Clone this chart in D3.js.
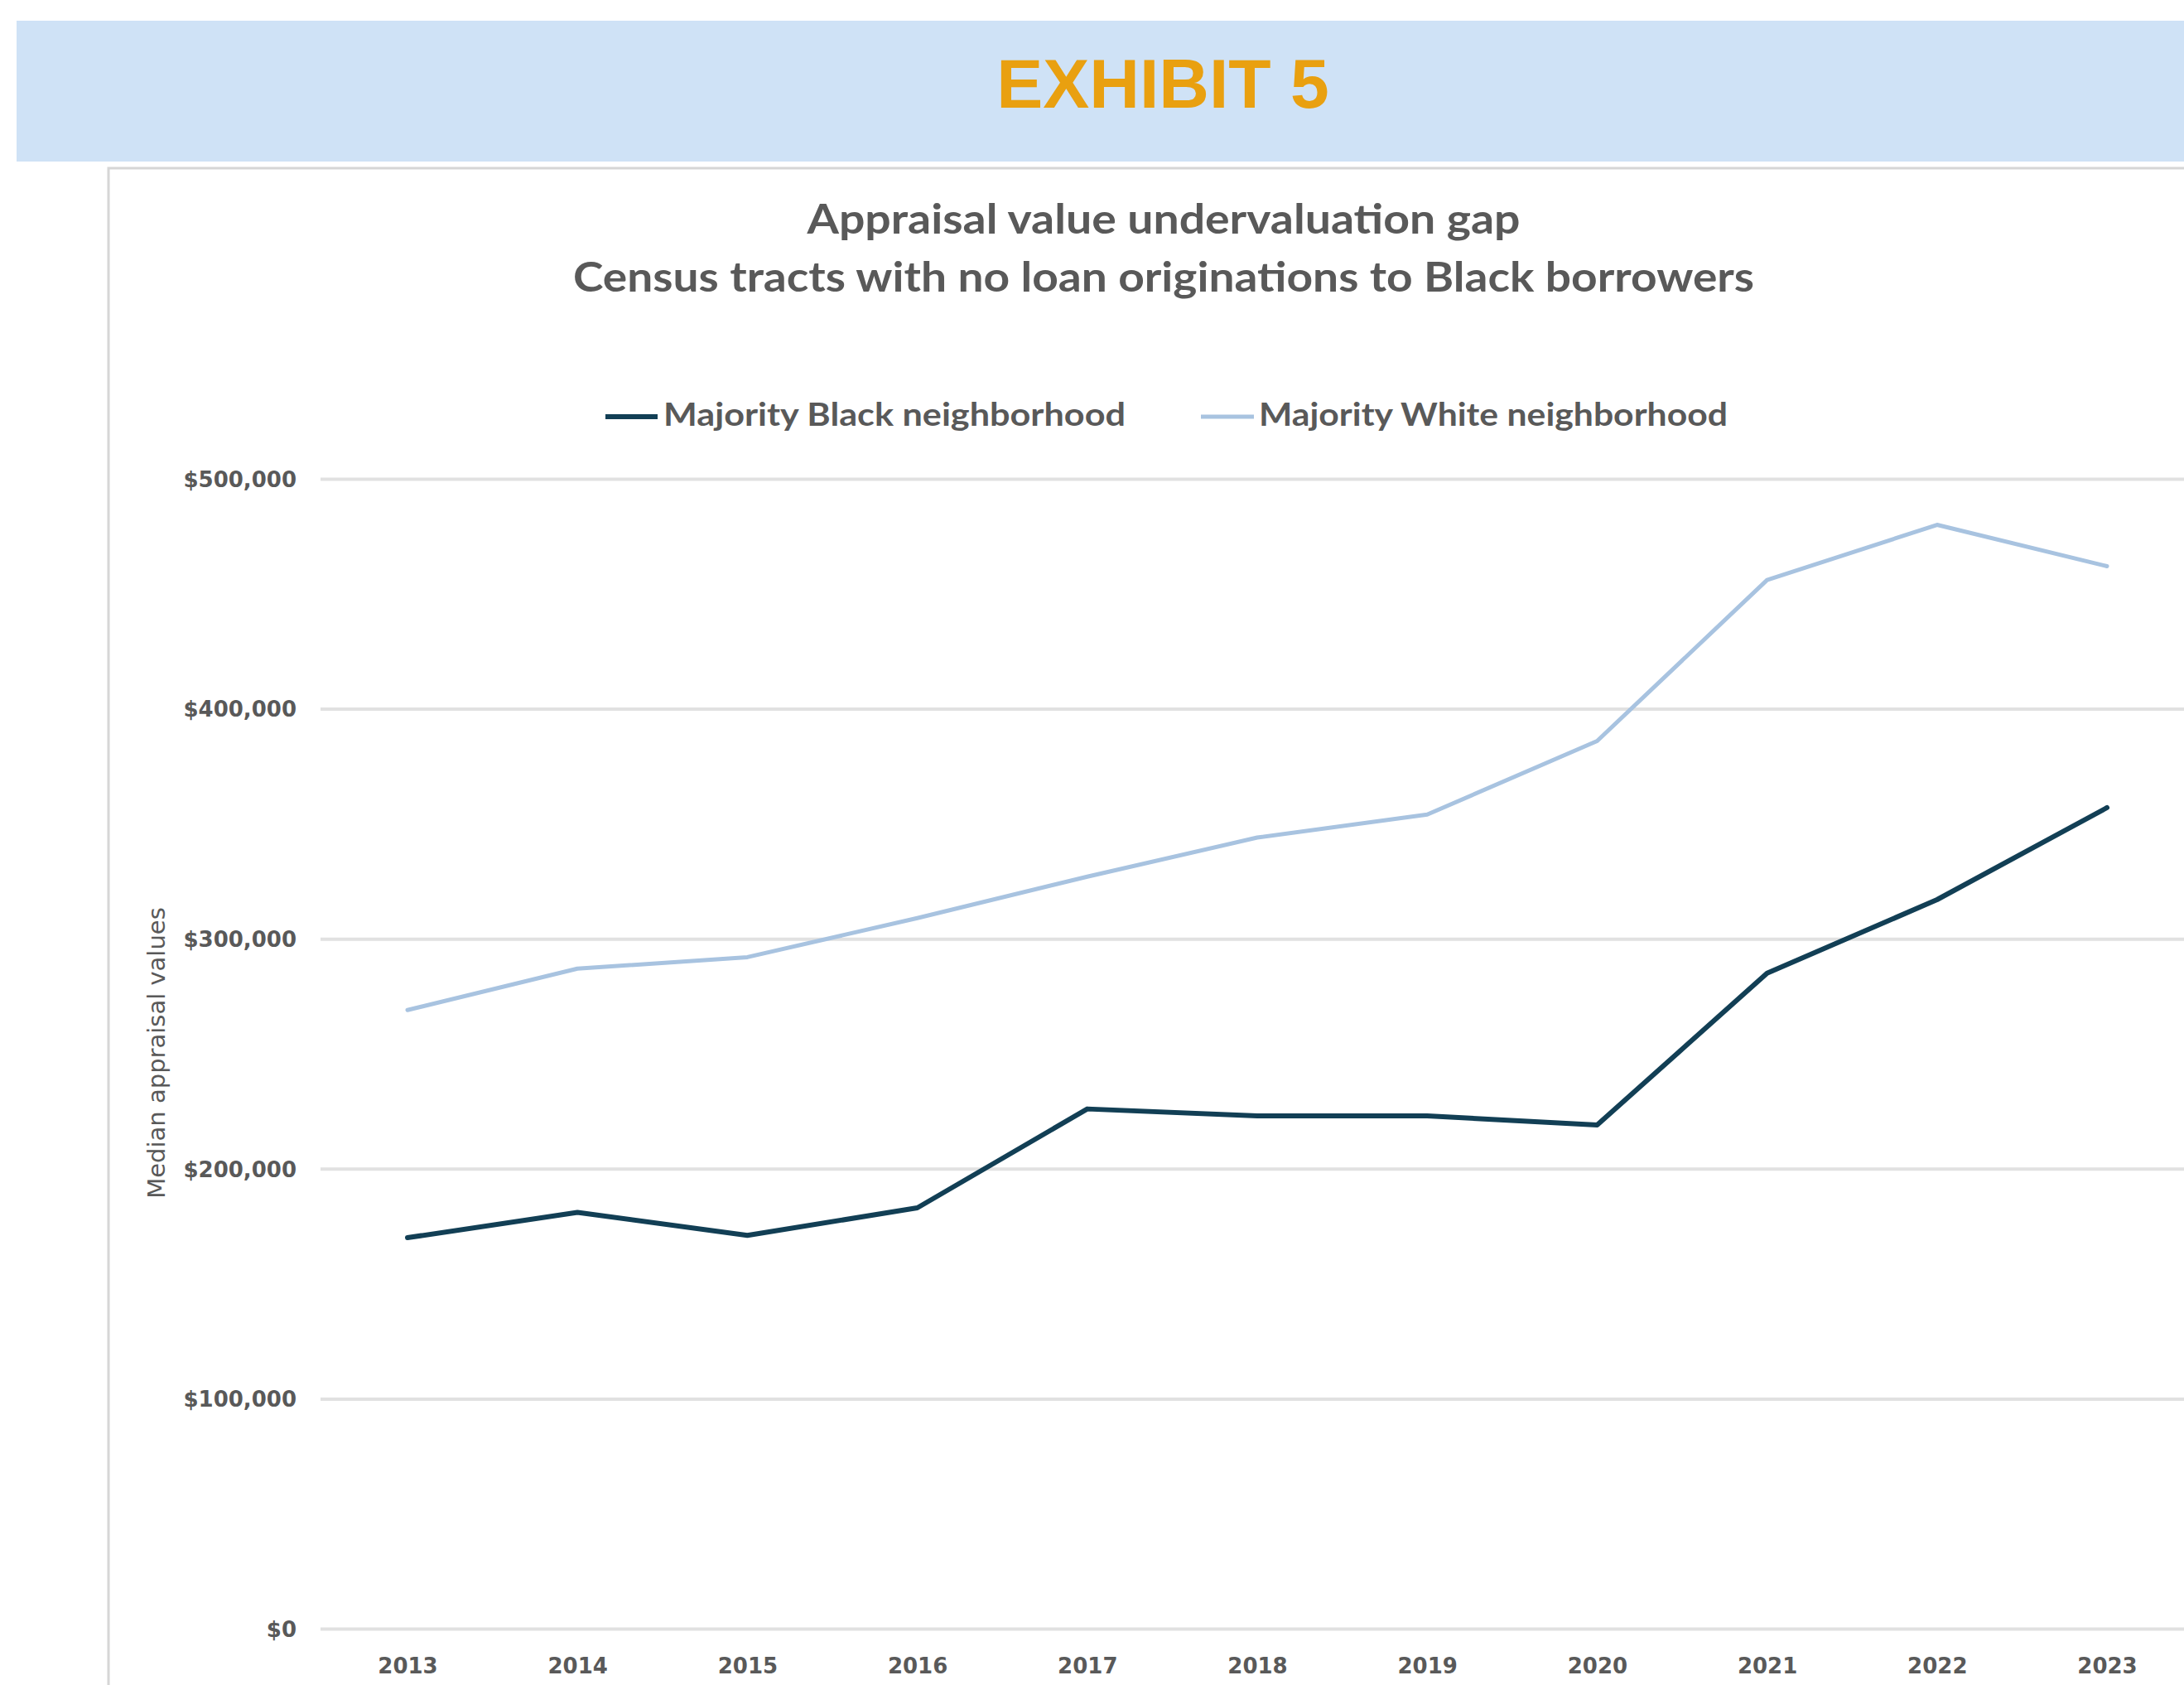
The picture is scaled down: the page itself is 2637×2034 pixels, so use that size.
<!DOCTYPE html>
<html>
<head>
<meta charset="utf-8">
<script src="https://cdn.jsdelivr.net/npm/d3@7"></script>
<style>
  html, body { margin: 0; padding: 0; background: #ffffff; }
  svg { display: block; }
</style>
</head>
<body>
<script>
// Median appraisal values by year, census tracts with no loan originations to Black borrowers
const years = ["2013","2014","2015","2016","2017","2018","2019","2020","2021","2022","2023"];
const blackValues = [170000, 181000, 171000, 183000, 226000, 223000, 223000, 219000, 285000, 317000, 357000];
const whiteValues = [269000, 287000, 292000, 309000, 327000, 344000, 354000, 386000, 456000, 480000, 462000];
const seriesNames = ["Majority Black neighborhood", "Majority White neighborhood"];
const yTicks = [0, 100000, 200000, 300000, 400000, 500000];
const exhibitLabel = "EXHIBIT 5";
const titleLines = ["Appraisal value undervaluation gap", "Census tracts with no loan originations to Black borrowers"];
const yAxisTitle = "Median appraisal values";

const W = 2637, H = 2034;
const colors = { black: "#123f55", white: "#a8c3e0", text: "#595959", grid: "#e1e1e1" };

const svg = d3.select("body").append("svg").attr("width", W).attr("height", H);

// Header banner
svg.append("rect").attr("x", 20).attr("y", 25).attr("width", W - 20).attr("height", 170).attr("fill", "#cfe2f6");
svg.append("text").attr("x", 1404).attr("y", 130).attr("text-anchor", "middle")
  .attr("font-family", "'Liberation Sans', Arial, sans-serif").attr("font-weight", "bold")
  .attr("font-size", 84).attr("fill", "#e9a010").text(exhibitLabel);

// Chart area frame
svg.append("rect").attr("x", 131).attr("y", 203).attr("width", W).attr("height", H)
  .attr("fill", "#ffffff").attr("stroke", "#d6d6d6").attr("stroke-width", 3);

// Fit a text element to a target width
function fitText(sel, width) {
  sel.attr("textLength", width).attr("lengthAdjust", "spacingAndGlyphs");
}

// Titles
const titleWidths = [861, 1426];
const titleBaselines = [282, 352];
titleLines.forEach((t, i) => {
  const el = svg.append("text").attr("x", 1405).attr("y", titleBaselines[i]).attr("text-anchor", "middle")
    .attr("font-family", "Lato, sans-serif").attr("font-weight", "bold").attr("font-size", 49)
    .attr("fill", colors.text).text(t);
  fitText(el, titleWidths[i]);
});

// Scales
const x = d3.scalePoint().domain(years).range([492, 2544]);
const y = d3.scaleLinear().domain([0, 500000]).range([1966, 578]);

// Y axis with gridlines
const gridLeft = 387;
const yAxis = svg.append("g").attr("transform", `translate(${gridLeft},0)`)
  .call(d3.axisLeft(y).tickValues(yTicks).tickSize(-(W - gridLeft)).tickPadding(29)
    .tickFormat(d => "$" + d3.format(",")(d)));
yAxis.select(".domain").remove();
yAxis.selectAll(".tick line").attr("stroke", colors.grid).attr("stroke-width", 4);
yAxis.selectAll(".tick text").attr("font-family", "'DejaVu Sans', sans-serif").attr("font-weight", "bold")
  .attr("font-size", 26).attr("fill", colors.text).attr("dy", "0.36em");

// X axis labels
const xAxis = svg.append("g").attr("transform", "translate(0,1966)")
  .call(d3.axisBottom(x).tickSize(0).tickPadding(36));
xAxis.select(".domain").remove();
xAxis.selectAll(".tick text").attr("font-family", "'DejaVu Sans', sans-serif").attr("font-weight", "bold")
  .attr("font-size", 26).attr("fill", colors.text);

// Y axis title
svg.append("text").attr("transform", "translate(199,1271) rotate(-90)").attr("text-anchor", "middle")
  .attr("font-family", "'DejaVu Sans', sans-serif").attr("font-size", 29).attr("fill", colors.text)
  .text(yAxisTitle);

// Series lines
const line = d3.line().x((d, i) => x(years[i])).y(d => y(d));
svg.append("path").datum(whiteValues).attr("d", line).attr("fill", "none")
  .attr("stroke", colors.white).attr("stroke-width", 5).attr("stroke-linejoin", "round").attr("stroke-linecap", "round");
svg.append("path").datum(blackValues).attr("d", line).attr("fill", "none")
  .attr("stroke", colors.black).attr("stroke-width", 6).attr("stroke-linejoin", "round").attr("stroke-linecap", "round");

// Legend
const legendItems = [
  { name: seriesNames[0], color: colors.black, sw: 6, x0: 731, x1: 794, tx: 801, tw: 558 },
  { name: seriesNames[1], color: colors.white, sw: 5, x0: 1450, x1: 1514, tx: 1520, tw: 566 }
];
legendItems.forEach(it => {
  svg.append("line").attr("x1", it.x0).attr("x2", it.x1).attr("y1", 503).attr("y2", 503)
    .attr("stroke", it.color).attr("stroke-width", it.sw);
  const el = svg.append("text").attr("x", it.tx).attr("y", 514)
    .attr("font-family", "Lato, sans-serif").attr("font-weight", "bold").attr("font-size", 39)
    .attr("fill", colors.text).text(it.name);
  fitText(el, it.tw);
});
</script>
</body>
</html>
